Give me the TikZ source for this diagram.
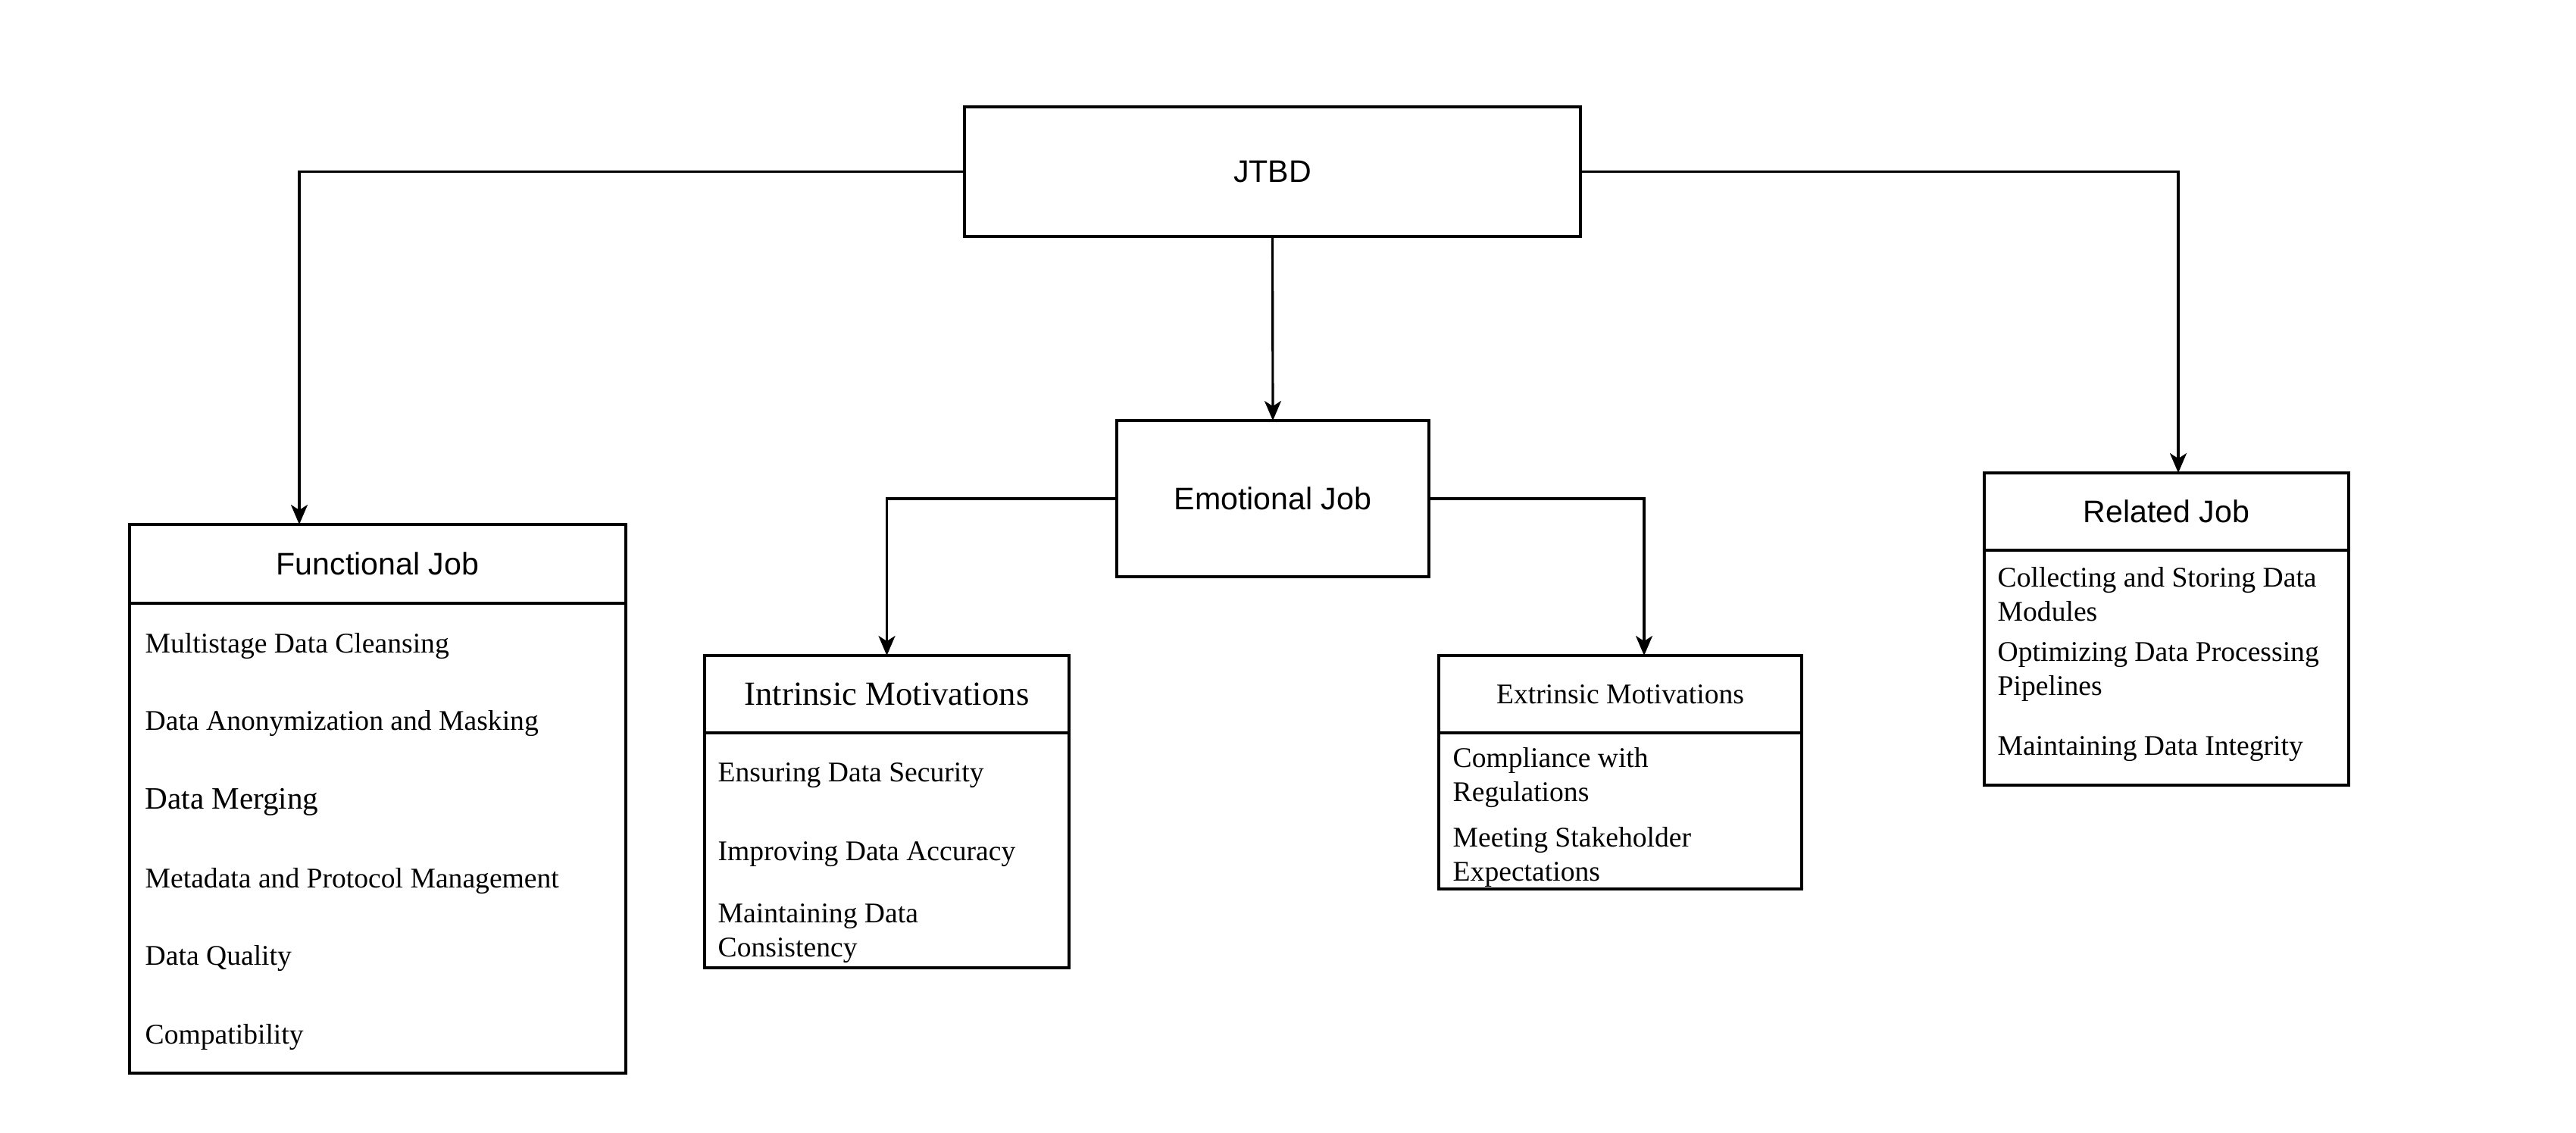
\documentclass[tikz,border=0pt]{standalone}
\usepackage{fontspec}
\setmainfont{Liberation Serif}
\setsansfont{Liberation Sans}
\usetikzlibrary{positioning,arrows.meta}

\begin{document}
\begin{tikzpicture}[
  job/.style = {draw, line width = 0.9pt, shape = rectangle, outer sep = 0pt, font = \sffamily\fontsize{11.7}{14}\selectfont},
  body/.style = {draw, line width = 0.9pt, shape = rectangle, outer sep = 0pt},
  item/.style = {anchor = west, inner sep = 0pt, align = left, yshift = -0.04cm, font = \fontsize{10.7}{12.8}\selectfont},
  link/.style = {line width = 0.9pt, -{Stealth[length = 0.26cm, width = 0.22cm, inset = 0.07cm]}}
]
\useasboundingbox (0,0) rectangle (34,-14.94);

\node[job, minimum width = 8.13cm, minimum height = 1.71cm] (0) at (16.795,-2.265) {JTBD};
\node[job, minimum width = 4.12cm, minimum height = 2.06cm] (3) at (16.8,-6.58) {Emotional Job};

% functional
\node[job, minimum width = 6.55cm, minimum height = 1.04cm] (1) at (4.985,-7.44) {Functional Job};
\node[body, minimum width = 6.55cm, minimum height = 6.2cm, below = 0pt of 1] (2) {};
\node[item] (21) at (1.91,-8.48) {Multistage Data Cleansing};
\node[item] (22) at (1.91,-9.50) {Data Anonymization and Masking};
\node[item, font = \fontsize{11.7}{14}\selectfont] (23) at (1.91,-10.54) {Data Merging};
\node[item] (24) at (1.91,-11.58) {Metadata and Protocol Management};
\node[item] (25) at (1.91,-12.60) {Data Quality};
\node[item] (26) at (1.91,-13.64) {Compatibility};

% intrinsic
\node[body, minimum width = 4.81cm, minimum height = 1.02cm, font = \fontsize{12.7}{15}\selectfont] (4) at (11.705,-9.16) {Intrinsic Motivations};
\node[body, minimum width = 4.81cm, minimum height = 3.1cm, below = 0pt of 4] (5) {};
\node[item] (51) at (9.47,-10.19) {Ensuring Data Security};
\node[item] (52) at (9.47,-11.23) {Improving Data Accuracy};
\node[item] (53) at (9.47,-12.28) {Maintaining Data\\Consistency};

% extrinsic
\node[body, minimum width = 4.79cm, minimum height = 1.02cm, font = \fontsize{10.7}{13}\selectfont] (6) at (21.385,-9.16) {Extrinsic Motivations};
\node[body, minimum width = 4.79cm, minimum height = 2.06cm, below = 0pt of 6] (7) {};
\node[item] (71) at (19.17,-10.22) {Compliance with\\Regulations};
\node[item] (72) at (19.17,-11.265) {Meeting Stakeholder\\Expectations};

% related
\node[job, minimum width = 4.81cm, minimum height = 1.02cm] (8) at (28.595,-6.75) {Related Job};
\node[body, minimum width = 4.81cm, minimum height = 3.1cm, below = 0pt of 8] (9) {};
\node[item] (91) at (26.36,-7.80) {Collecting and Storing Data\\Modules};
\node[item] (92) at (26.36,-8.83) {Optimizing Data Processing\\Pipelines};
\node[item] (93) at (26.36,-9.84) {Maintaining Data Integrity};

\draw[link] (0.west) -| ([xshift = -1.035cm]1.north);
\draw[link] (0.east) -| ([xshift = 0.155cm]8.north);
\draw[link] (0.south) -- (3.north);
\draw[link] (3.west) -| (4.north);
\draw[link] (3.east) -| ([xshift = 0.315cm]6.north);
\end{tikzpicture}
\end{document}
